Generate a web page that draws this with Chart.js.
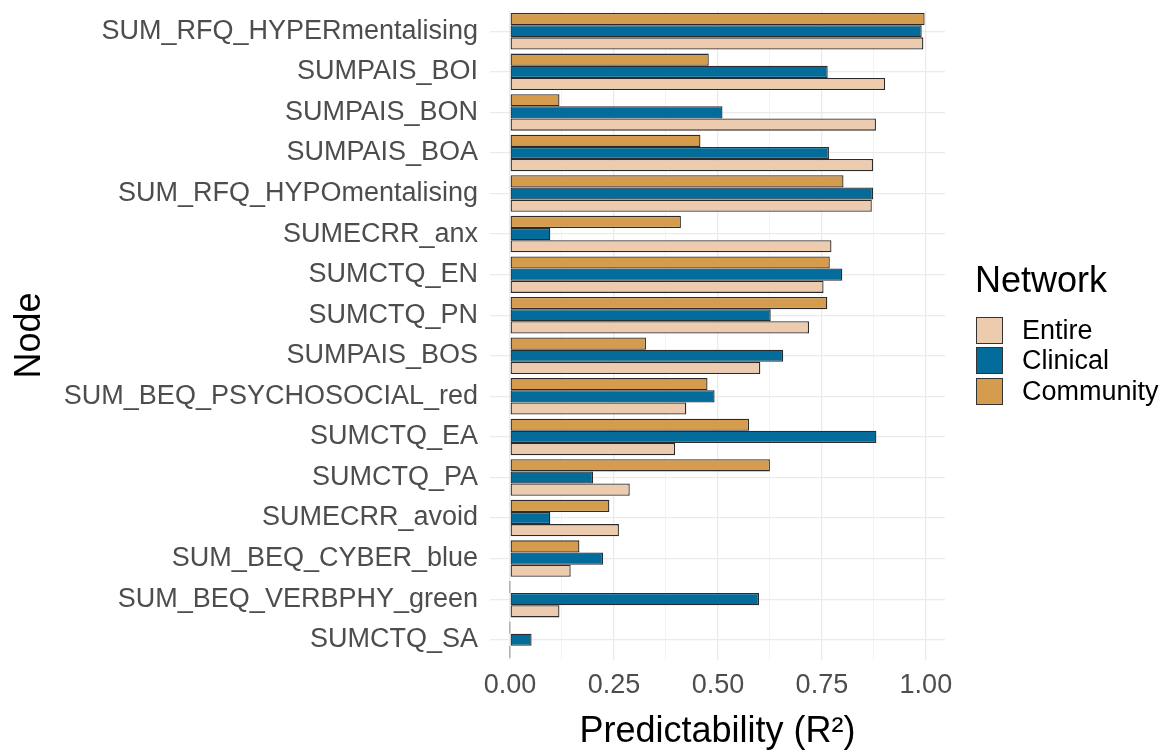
<!DOCTYPE html>
<html>
<head>
<meta charset="utf-8">
<title>Predictability by node</title>
<script src="https://cdn.jsdelivr.net/npm/chart.js@4.4.1/dist/chart.umd.min.js"></script>
<style>
  body { margin: 0; background: #fff; }
  #wrap { position: relative; width: 1170px; height: 754px; }
  #legend { position: absolute; left: 975px; top: 262px; font-family: "Liberation Sans", Arial, sans-serif; }
  #legend .title { font-size: 36px; color: #000; line-height: 36px; margin-bottom: 17px; }
  #legend .item { display: flex; align-items: center; height: 30.5px; }
  #legend .box { width: 27px; height: 27px; border: 1px solid #333; box-sizing: border-box; margin-left: 1px; margin-right: 19px; }
  #legend .label { font-size: 27px; color: #000; }
</style>
</head>
<body>
<div id="wrap">
  <canvas id="myChart" width="1170" height="754"></canvas>
  <div id="legend"></div>
</div>
<script>
// nodes, top to bottom
var nodes = ["SUM_RFQ_HYPERmentalising", "SUMPAIS_BOI", "SUMPAIS_BON", "SUMPAIS_BOA",
  "SUM_RFQ_HYPOmentalising", "SUMECRR_anx", "SUMCTQ_EN", "SUMCTQ_PN", "SUMPAIS_BOS",
  "SUM_BEQ_PSYCHOSOCIAL_red", "SUMCTQ_EA", "SUMCTQ_PA", "SUMECRR_avoid",
  "SUM_BEQ_CYBER_blue", "SUM_BEQ_VERBPHY_green", "SUMCTQ_SA"];

var entire    = [0.994, 0.902, 0.880, 0.873, 0.870, 0.773, 0.754, 0.719, 0.602, 0.424, 0.397, 0.288, 0.262, 0.146, 0.119, 0];
var clinical  = [0.990, 0.764, 0.511, 0.767, 0.873, 0.097, 0.799, 0.627, 0.657, 0.492, 0.881, 0.200, 0.097, 0.224, 0.599, 0.052];
var community = [0.997, 0.478, 0.119, 0.458, 0.802, 0.411, 0.769, 0.763, 0.327, 0.475, 0.575, 0.625, 0.239, 0.167, 0, 0];

var xTicks = [0, 0.25, 0.5, 0.75, 1.0];
var xMinor = [0.125, 0.375, 0.625, 0.875];

var font = "'Liberation Sans', Arial, sans-serif";

function bar(label, data, color) {
  return {
    label: label,
    data: data,
    backgroundColor: color,
    borderColor: '#2b2b2b',
    borderWidth: 1.3,
    borderSkipped: false,
    minBarLength: 1,
    categoryPercentage: 0.9,
    barPercentage: 1.0
  };
}

var ctx = document.getElementById('myChart').getContext('2d');

var chart = new Chart(ctx, {
  type: 'bar',
  data: {
    labels: nodes,
    // community is drawn on top of each group, entire at the bottom
    datasets: [
      bar('Community', community, '#D69C4E'),
      bar('Clinical', clinical, '#046C9A'),
      bar('Entire', entire, '#ECCBAE')
    ]
  },
  options: {
    indexAxis: 'y',
    responsive: false,
    animation: false,
    layout: { padding: { top: 11, right: 225, left: 0, bottom: 0 } },
    plugins: {
      legend: { display: false },
      tooltip: { enabled: false }
    },
    scales: {
      x: {
        min: -0.048,
        max: 1.046,
        afterBuildTicks: function(scale) {
          scale.ticks = xTicks.concat(xMinor).sort().map(function(v) { return { value: v }; });
        },
        afterFit: function(scale) {
          scale.height = 94;
          scale.paddingLeft = 0;
          scale.paddingRight = 0;
        },
        border: { display: false },
        grid: {
          drawTicks: false,
          color: function(c) { return xTicks.indexOf(c.tick.value) >= 0 ? '#ebebeb' : '#f3f3f3'; },
          lineWidth: function(c) { return xTicks.indexOf(c.tick.value) >= 0 ? 1.3 : 1; }
        },
        ticks: {
          autoSkip: false,
          maxRotation: 0,
          padding: 9,
          color: '#4d4d4d',
          font: { family: font, size: 27 },
          callback: function(v) { return xTicks.indexOf(v) >= 0 ? v.toFixed(2) : ''; }
        },
        title: {
          display: true,
          text: 'Predictability (R²)',
          color: '#000',
          font: { family: font, size: 36, lineHeight: 1.2 },
          padding: { top: 2, bottom: 0 }
        }
      },
      y: {
        afterFit: function(scale) {
          scale.width = 490;
          scale.paddingTop = 0;
          scale.paddingBottom = 0;
        },
        border: { display: false },
        grid: { offset: false, drawTicks: false, color: '#ebebeb', lineWidth: 1.3 },
        ticks: {
          autoSkip: false,
          padding: 12,
          color: '#4d4d4d',
          font: { family: font, size: 27 }
        },
        title: {
          display: true,
          text: 'Node',
          color: '#000',
          font: { family: font, size: 36, lineHeight: 1.2 },
          padding: { top: 8, bottom: 0 }
        }
      }
    }
  }
});

// html legend, in ggplot order (Entire, Clinical, Community)
var legend = document.getElementById('legend');
var html = '<div class="title">Network</div>';
chart.data.datasets.slice().reverse().forEach(function(ds) {
  html += '<div class="item"><span class="box" style="background:' + ds.backgroundColor +
    '"></span><span class="label">' + ds.label + '</span></div>';
});
legend.innerHTML = html;
</script>
</body>
</html>
